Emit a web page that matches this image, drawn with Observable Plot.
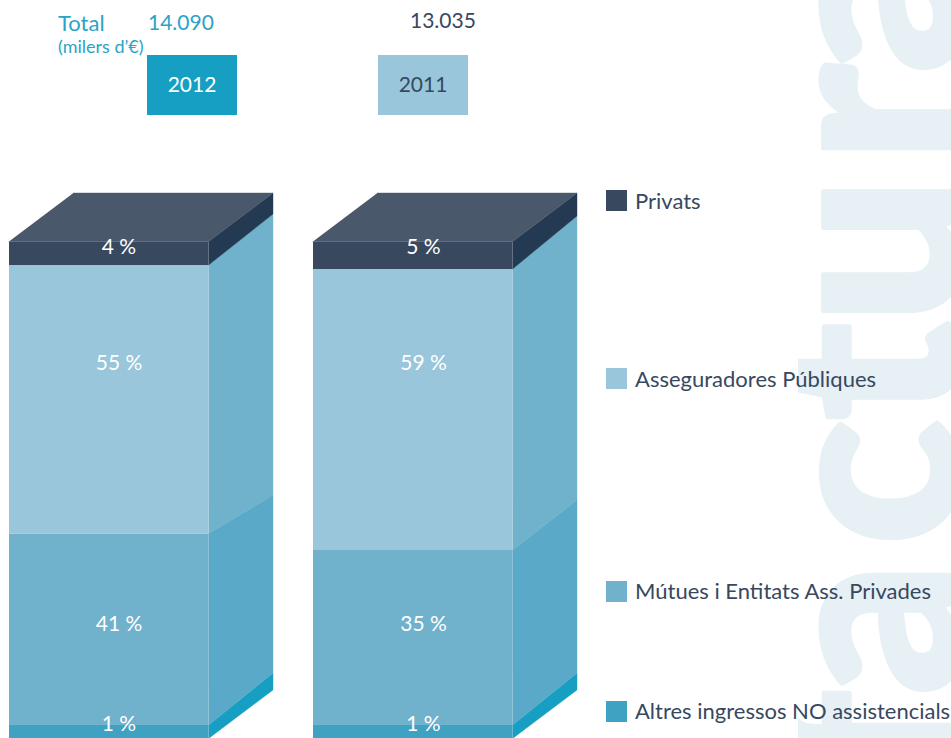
<!DOCTYPE html>
<html>
<head>
<meta charset="utf-8">
<script src="https://cdn.jsdelivr.net/npm/d3@7"></script>
<script src="https://cdn.jsdelivr.net/npm/@observablehq/plot@0.6"></script>
<style>
html,body{margin:0;padding:0;background:#fff;overflow:hidden}
#page{position:relative;width:951px;height:738px;overflow:hidden;font-family:Lato,sans-serif;color:#37485f}
#page svg{position:absolute;left:0;top:0}
.t{position:absolute;white-space:nowrap;line-height:1}
.box{position:absolute;width:90px;height:57px;padding-bottom:3px;top:55px;display:flex;align-items:center;justify-content:center;font-size:21px}
.sw{position:absolute;left:606px;width:21px;height:21px}
.lg{position:absolute;left:635px;font-size:22px;white-space:nowrap;line-height:1}
</style>
</head>
<body>
<div id="page"></div>
<script>
// Data, bottom-to-top stack order
const categories = ["Altres ingressos NO assistencials", "Mútues i Entitats Ass. Privades", "Asseguradores Públiques", "Privats"];
const years = ["2012", "2011"];
const totals = ["14.090", "13.035"];
const printed2012 = [1, 41, 55, 4];
const printed2011 = [1, 35, 59, 5];
// Band heights as drawn in the picture, per cent of the bar's front (and back) edge
const front2012 = [2.72, 38.53, 54.02, 4.73];
const front2011 = [2.72, 35.21, 56.54, 5.53];
const back2012 = [3.42, 35.81, 56.54, 4.23];
const back2011 = [3.42, 34.81, 57.14, 4.63];

// Styling and layout
const frontColors = ["#40a2c3", "#70b1cc", "#99c6da", "#37485f"];
const sideColors = ["#169fc2", "#5aa9c8", "#70b1cc", "#233a52"];
const topColor = "#4a586b";
const barWidth = 199.6, depthX = 64.4, depthY = 9.76;
const barLeft = [9, 313];
const labelCenter = [118.5, 423];
const labelY = [2.9, 23, 75.6, 98.9];
const watermarkLetters = ["a", "r", "u", "t", "c", "a", "f"];
const watermarkCenters = [6, 113, 250, 371, 482, 628, 738];

const cum = a => { let s = 0; return [0, ...a.map(v => (s += v))]; };
const bars = [
  {left: barLeft[0], center: labelCenter[0], printed: printed2012, front: cum(front2012), back: cum(back2012)},
  {left: barLeft[1], center: labelCenter[1], printed: printed2011, front: cum(front2011), back: cum(back2011)}
];
const yOfPixel = p => (738.5 - p) / 4.97;

const marks = [];
// Watermark, cut off at its left edge like the original picture
marks.push(Plot.text(watermarkLetters, {
  x: () => 957, y: (d, i) => yOfPixel(watermarkCenters[i]), text: d => d, rotate: -90, textAnchor: "middle",
  lineAnchor: "bottom", fontSize: 260, fontWeight: 900, fontFamily: "Lato", fill: "#e6f0f5",
  stroke: "#e6f0f5", strokeWidth: 5
}));
marks.push(Plot.rect([0], {x1: () => 700, x2: () => 798, y1: () => yOfPixel(738), y2: () => yOfPixel(0), fill: "white"}));
for (const b of bars) {
  categories.forEach((c, i) => {
    const l = b.left, r = l + barWidth, e = r + depthX;
    marks.push(Plot.line([
      {x: r, y: b.front[i]}, {x: e, y: b.back[i] + depthY}, {x: e, y: b.back[i + 1] + depthY}, {x: r, y: b.front[i + 1]}
    ], {x: "x", y: "y", fill: sideColors[i], stroke: sideColors[i], strokeWidth: 0.4, dx: -0.5, dy: -0.5, curve: "linear"}));
    marks.push(Plot.rect([0], {x1: () => l, x2: () => r, y1: () => b.front[i], y2: () => b.front[i + 1], fill: frontColors[i]}));
  });
  const l = b.left, r = l + barWidth;
  marks.push(Plot.line([
    {x: l, y: 100}, {x: r, y: 100}, {x: r + depthX, y: 100 + depthY}, {x: l + depthX, y: 100 + depthY}
  ], {x: "x", y: "y", fill: topColor, stroke: topColor, strokeWidth: 0.4, dx: -0.5, dy: -0.5, curve: "linear"}));
  marks.push(Plot.text(b.printed, {
    x: () => b.center, y: (d, i) => labelY[i], text: d => `${d} %`,
    fill: "white", fontSize: 21, fontFamily: "Lato", textAnchor: "middle"
  }));
}

const chart = Plot.plot({
  width: 951, height: 738, margin: 0,
  x: {domain: [0, 951], range: [0, 951], axis: null},
  y: {domain: [0, 100], range: [738.5, 241.5], axis: null},
  style: {background: "transparent", overflow: "hidden"},
  marks
});
const page = document.getElementById("page");
page.appendChild(chart);

// Header and legend
const add = (cls, text, style) => {
  const e = document.createElement("div");
  e.className = cls; if (text) e.textContent = text;
  Object.assign(e.style, style); page.appendChild(e); return e;
};
add("t", "Total", {left: "58px", top: "12px", fontSize: "22px", color: "#2ba3c5"});
add("t", "(milers d’€)", {left: "58px", top: "37px", fontSize: "18px", color: "#2ba3c5"});
add("t", totals[0], {left: "148px", top: "11px", fontSize: "21px", color: "#2ba3c5"});
add("t", totals[1], {left: "410px", top: "9px", fontSize: "21px", color: "#37485f"});
add("box", years[0], {left: "147px", background: "#169fc2", color: "#fff"});
add("box", years[1], {left: "378px", background: "#99c6da", color: "#37485f"});
const swatchTop = [701, 581, 368, 190];
const legendTop = [700, 580, 368, 190];
categories.forEach((c, i) => {
  add("sw", "", {top: swatchTop[i] + "px", background: frontColors[i]});
  add("lg", c, {top: legendTop[i] + "px"});
});
</script>
</body>
</html>
